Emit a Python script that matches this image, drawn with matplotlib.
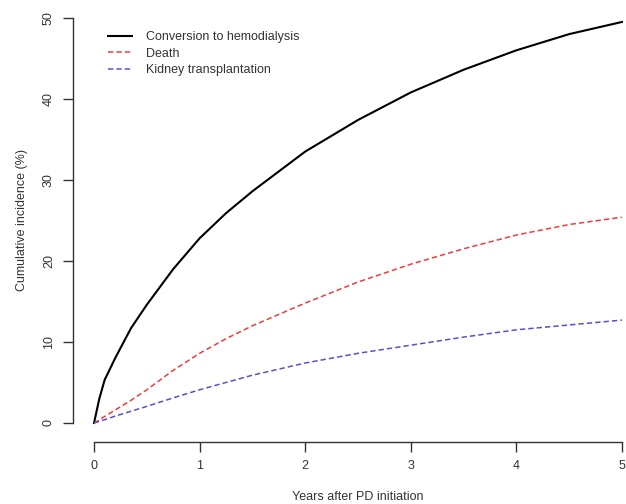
import matplotlib
matplotlib.use("Agg")
import matplotlib.pyplot as plt
import numpy as np

plt.rcParams['font.family'] = ['Liberation Sans', 'DejaVu Sans']

# ---- data ----
years = [0, 0.05, 0.1, 0.2, 0.35, 0.5, 0.75, 1, 1.25, 1.5, 2, 2.5, 3, 3.5, 4, 4.5, 5]
hemodialysis = [0, 3.0, 5.3, 8.0, 11.7, 14.6, 19.0, 22.8, 25.9, 28.6, 33.5, 37.4, 40.8, 43.6, 46.0, 48.0, 49.5]
death = [0, 0.4, 0.8, 1.6, 2.8, 4.1, 6.5, 8.6, 10.4, 12.0, 14.8, 17.4, 19.6, 21.5, 23.2, 24.5, 25.4]
transplant = [0, 0.2, 0.4, 0.85, 1.45, 2.05, 3.1, 4.1, 5.0, 5.9, 7.4, 8.6, 9.6, 10.6, 11.5, 12.1, 12.7]

x_ticks = [0, 1, 2, 3, 4, 5]
y_ticks = [0, 10, 20, 30, 40, 50]

fig = plt.figure(figsize=(6.26, 5.04), dpi=100)
ax = fig.add_axes([0.1165, 0.1286, 0.9107, 0.868])

ax.plot(years, hemodialysis, color='black', lw=1.5, label='Conversion to hemodialysis')
ax.plot(years, death, color='#f03c3c', lw=1.1, ls=(0, (3.5, 2)), label='Death')
ax.plot(years, transplant, color='#5b4fd0', lw=1.1, ls=(0, (3.5, 2)), label='Kidney transplantation')

ax.set_xlim(-0.2, 5.2)
ax.set_ylim(-2, 52)

# R-style detached axes
for s in ['top', 'right']:
    ax.spines[s].set_visible(False)
ax.spines['left'].set_position(('outward', 0))
ax.spines['bottom'].set_position(('outward', 2))
ax.spines['left'].set_bounds(0, 50)
ax.spines['bottom'].set_bounds(0, 5)
for s in ['left', 'bottom']:
    ax.spines[s].set_color('#333333')
    ax.spines[s].set_linewidth(1.0)

ax.set_xticks(x_ticks)
ax.set_yticks(y_ticks)
ax.set_yticklabels([str(v) for v in y_ticks], rotation=90, va='center')
ax.tick_params(axis='both', direction='out', length=7, width=1.0, color='#333333',
               labelsize=9, labelcolor='#333333', pad=6)

ax.set_xlabel('Years after PD initiation', fontsize=9, color='#333333', labelpad=14)
ax.set_ylabel('Cumulative incidence (%)', fontsize=9, color='#333333', labelpad=11)

ax.legend(loc='upper left', bbox_to_anchor=(0.155, 0.96), bbox_transform=fig.transFigure,
          frameon=False, fontsize=9, handlelength=1.9, handletextpad=1.1,
          labelspacing=0.35, labelcolor='#333333')

fig.savefig('out.png', dpi=100)
